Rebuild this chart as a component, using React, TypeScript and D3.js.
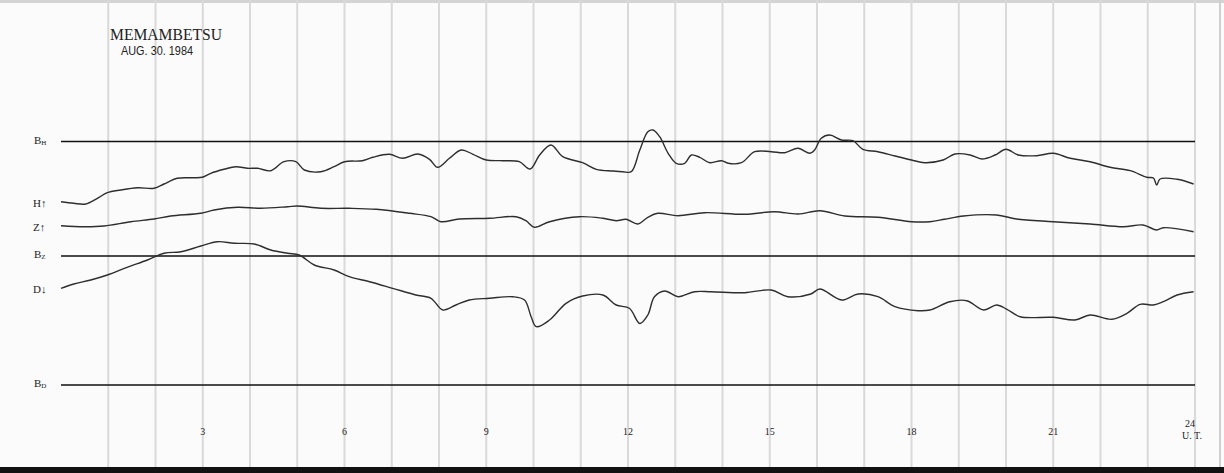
import React from "react";
import * as d3 from "d3";

// Magnetogram: MEMAMBETSU, AUG. 30. 1984 — deflection (mm above B_D base line) vs U.T. hours
const hValues: [number, number][] = [
  [0, 183.3], [0.27, 181.7], [0.52, 181], [0.77, 186.7], [0.98, 192.3], [1.26, 195], [1.62, 197.3],
  [1.97, 196.7], [2.18, 201], [2.46, 206.7], [2.75, 207.3], [2.99, 207.7], [3.17, 211.7], [3.45, 215.7],
  [3.7, 218.3], [3.95, 216.7], [4.16, 216.7], [4.44, 214.3], [4.72, 223.3], [4.97, 223.3], [5.15, 215],
  [5.5, 213.3], [5.78, 218.3], [6.0, 223.3], [6.38, 224.3], [6.6, 227.7], [6.95, 230.7], [7.23, 226.7],
  [7.55, 231], [7.8, 225.7], [7.97, 217.7], [8.22, 226.7], [8.47, 235], [8.72, 230.7], [9.0, 225],
  [9.35, 224.3], [9.7, 223.3], [9.93, 216], [10.13, 230], [10.37, 240], [10.62, 228.3], [11.04, 222.3],
  [11.33, 215.7], [11.68, 214], [11.89, 213.3], [12.07, 213.3], [12.25, 235], [12.42, 253.3],
  [12.53, 255], [12.67, 248.3], [12.85, 231.7], [13.02, 221.7], [13.2, 221.7], [13.34, 230],
  [13.52, 227.7], [13.73, 222.3], [13.98, 224.3], [14.12, 221.7], [14.4, 222.3], [14.68, 233.3],
  [15.03, 233.3], [15.32, 232.3], [15.6, 236.7], [15.85, 231.7], [15.95, 235], [16.09, 246.7],
  [16.27, 250], [16.52, 245], [16.76, 244.3], [16.97, 235.7], [17.29, 233.3], [17.65, 229], [18.0, 225],
  [18.28, 222.3], [18.67, 225], [18.92, 231], [19.24, 230], [19.49, 226], [19.77, 230], [20.0, 235.7],
  [20.26, 230], [20.65, 229.3], [21.0, 231.7], [21.36, 226.7], [21.78, 223.3], [22.2, 217.7],
  [22.63, 214.3], [22.98, 207.7], [23.12, 207], [23.19, 200], [23.26, 206], [23.62, 205.7], [23.97, 201],
];

const zValues: [number, number][] = [
  [0, 159.3], [0.49, 158.3], [0.91, 159], [1.48, 163.3], [1.97, 166], [2.32, 169], [2.96, 171.7],
  [3.24, 175], [3.74, 177.7], [4.23, 176.7], [4.8, 178.3], [5.0, 179], [5.5, 176.7], [6.1, 176.7],
  [6.67, 175.7], [7.37, 171.7], [7.83, 168.3], [8.04, 163.3], [8.43, 166], [9.07, 166.7], [9.63, 168.3],
  [9.84, 164.3], [10.02, 157.7], [10.34, 163.3], [10.97, 168.3], [11.47, 166.7], [11.75, 164.3],
  [11.96, 165.7], [12.21, 161], [12.42, 167.7], [12.63, 171.7], [13.06, 169.3], [13.62, 172.3],
  [14.47, 170.7], [15.1, 173.3], [15.6, 171], [16.06, 174.3], [16.59, 169], [17.29, 167.7], [18.0, 163.3],
  [18.39, 163.3], [18.7, 165.7], [19.1, 169], [19.8, 170], [20.22, 166], [21.0, 163.3], [21.78, 161],
  [22.48, 158.3], [22.9, 160], [23.19, 155], [23.33, 157.3], [23.97, 153.3],
];

const dValues: [number, number][] = [
  [0, 96.7], [0.27, 101], [0.63, 105], [0.98, 110], [1.4, 117.7], [1.83, 125], [2.18, 131.7],
  [2.54, 133.3], [2.96, 139], [3.31, 143.3], [3.67, 141.7], [4.09, 141], [4.44, 135], [4.8, 131.7],
  [5.04, 130], [5.36, 120], [5.78, 115], [6.1, 108.3], [6.53, 103.3], [7.02, 96.7], [7.51, 90],
  [7.83, 86.7], [8.08, 75], [8.36, 80], [8.64, 85], [9.07, 86.7], [9.56, 88.3], [9.81, 85], [9.95, 68.3],
  [10.06, 58.3], [10.34, 65], [10.69, 81.7], [11.04, 89], [11.47, 90], [11.75, 80], [12.03, 76.7],
  [12.25, 61.5], [12.42, 70], [12.56, 88.3], [12.78, 94], [13.06, 88.3], [13.41, 93.3], [13.76, 93.3],
  [14.47, 92.3], [15.03, 95], [15.38, 88.3], [15.87, 91], [16.06, 96], [16.52, 85], [16.87, 91],
  [17.29, 88.3], [17.65, 78.3], [18.14, 74.3], [18.39, 75], [18.81, 83.3], [19.17, 84.3], [19.53, 75],
  [19.8, 80], [20.02, 75.7], [20.3, 68.3], [21.0, 67.7], [21.46, 65], [21.78, 70], [22.24, 65.7],
  [22.56, 71.7], [22.84, 80.7], [23.12, 80], [23.33, 83.3], [23.62, 90], [23.97, 93.3],
];

const baseLines = [
  { name: "B", sub: "H", value: 243.5 },
  { name: "B", sub: "Z", value: 129 },
  { name: "B", sub: "D", value: 0 },
];
const traceLabels = [
  { text: "H\u2191", value: 182 },
  { text: "Z\u2191", value: 158 },
  { text: "D\u2193", value: 96 },
];
const tickHours = [3, 6, 9, 12, 15, 18, 21];
const gridHours = d3.range(1, 25);

const W = 1224;
const H = 473;

export default function App() {
  const x = d3.scaleLinear().domain([0, 24]).range([61, 1195]);
  const y = d3.scaleLinear().domain([0, 250]).range([385, 135]);
  const line = d3
    .line<[number, number]>()
    .x((d) => x(d[0]))
    .y((d) => y(d[1]))
    .curve(d3.curveCatmullRom.alpha(0.5));

  const serif = "'Liberation Serif', 'DejaVu Serif', serif";
  return (
    <svg
      width={W}
      height={H}
      style={{ position: "absolute", left: 0, top: 0, display: "block" }}
    >
      <rect x={0} y={0} width={W} height={H} fill="#fbfbfb" />
      <rect x={0} y={0} width={W} height={3} fill="#d4d4d4" />
      {gridHours.map((h) => (
        <line key={h} x1={x(h)} x2={x(h)} y1={0} y2={467} stroke="#d9d9d9" strokeWidth={2} />
      ))}
      <line x1={1220} x2={1220} y1={0} y2={467} stroke="#cfcfcf" strokeWidth={2} />
      <rect x={0} y={467} width={W} height={6} fill="#111" />

      {baseLines.map((b) => (
        <g key={b.sub}>
          <line x1={x(0)} x2={x(24)} y1={y(b.value)} y2={y(b.value)} stroke="#111" strokeWidth={1.3} />
          <text x={34} y={y(b.value) + 2} fontFamily={serif} fontSize={11} fill="#222">
            {b.name}
            <tspan fontSize={7} dy={1}>{b.sub}</tspan>
          </text>
        </g>
      ))}
      {traceLabels.map((t) => (
        <text key={t.text} x={33} y={y(t.value) + 4} fontFamily={serif} fontSize={11} fill="#222">
          {t.text}
        </text>
      ))}

      {[hValues, zValues, dValues].map((v, i) => (
        <path key={i} d={line(v) || ""} fill="none" stroke="#2e2e2e" strokeWidth={1.4} strokeLinejoin="round" />
      ))}

      {tickHours.map((h) => (
        <text key={h} x={x(h)} y={435} textAnchor="middle" fontFamily={serif} fontSize={10} fill="#222">
          {h}
        </text>
      ))}
      <text x={x(24) - 5} y={427} textAnchor="middle" fontFamily={serif} fontSize={10} fill="#222">24</text>
      <text x={1182} y={439} fontFamily={serif} fontSize={10} fill="#222">U. T.</text>

      <text x={110} y={40} fontFamily={serif} fontSize={16} fill="#222" textLength={112} lengthAdjust="spacingAndGlyphs">
        MEMAMBETSU
      </text>
      <text x={121} y={55} fontFamily="'Liberation Sans', Arial, sans-serif" fontSize={12} fill="#222" textLength={72} lengthAdjust="spacingAndGlyphs">
        AUG. 30. 1984
      </text>
    </svg>
  );
}
